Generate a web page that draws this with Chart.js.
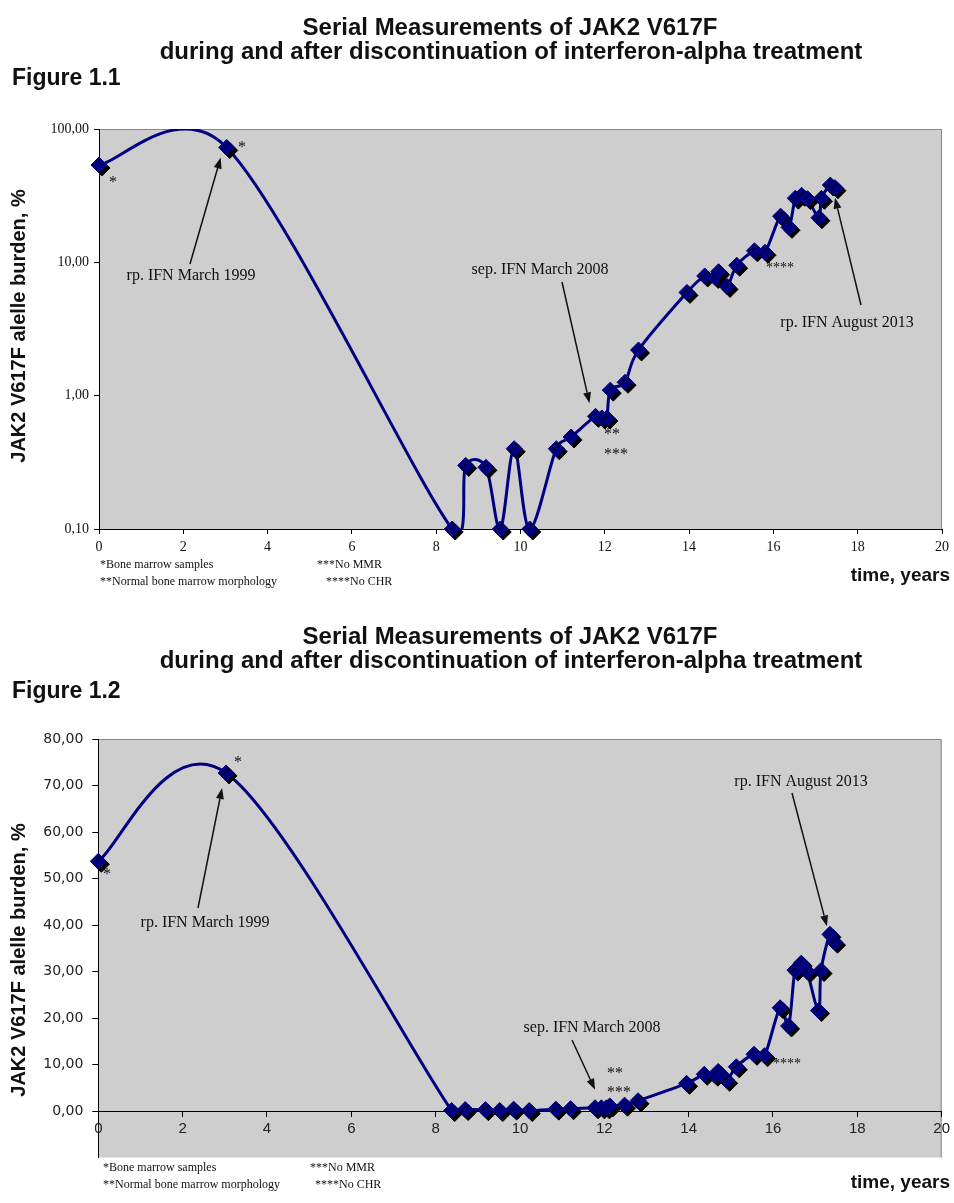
<!DOCTYPE html>
<html>
<head>
<meta charset="utf-8">
<script src="https://cdn.jsdelivr.net/npm/chart.js@4/dist/chart.umd.min.js"></script>
<style>
html, body { margin: 0; padding: 0; background: #fff; }
#wrap { position: relative; width: 954px; height: 1203px; }
canvas { position: absolute; left: 0; }
#c1 { top: 0; }
#c2 { top: 600px; }
</style>
</head>
<body>
<div id="wrap">
  <canvas id="c1" width="954" height="600"></canvas>
  <canvas id="c2" width="954" height="603"></canvas>
</div>
<script>
// time since start, years
const years  = [0.00, 3.03, 8.38, 8.70, 9.18, 9.52, 9.85, 10.22, 10.85, 11.20,
                11.78, 11.93, 12.05, 12.13, 12.48, 12.80, 13.95,
                14.37, 14.62, 14.70, 14.90, 15.13, 15.55, 15.80,
                16.17, 16.37, 16.52, 16.67, 16.81, 17.08, 17.14, 17.35, 17.46];
// JAK2 V617F allele burden, %
const burden = [53.7, 72.7, 0.10, 0.30, 0.29, 0.10, 0.40, 0.10, 0.40, 0.49,
                0.70, 0.68, 0.68, 1.10, 1.26, 2.20, 5.95,
                7.9, 7.7, 8.5, 6.6, 9.5, 12.2, 11.9,
                22.2, 18.3, 30.3, 31.8, 30.0, 21.6, 30.2, 38.0, 36.3];
const xTicks   = [0, 2, 4, 6, 8, 10, 12, 14, 16, 18, 20];
const logTicks = [0.1, 1, 10, 100];
const linTicks = [0, 10, 20, 30, 40, 50, 60, 70, 80];

const titleLines = ['Serial Measurements of JAK2 V617F',
                    'during and after discontinuation of interferon-alpha treatment'];
const yTitle = 'JAK2 V617F alelle burden, %';
const xTitle = 'time, years';
const notes  = [['*Bone marrow samples', '***No MMR'],
                ['**Normal bone marrow morphology', '****No CHR']];

const NAVY = '#000080';
const SERIF = '"Liberation Serif", "DejaVu Serif", serif';
const SANS = '"Liberation Sans", Arial, sans-serif';
const pts = years.map((x, i) => ({ x: x, y: burden[i] }));
const fmt = v => Number(v).toFixed(2).replace('.', ',');

function arrow(c, x1, y1, x2, y2) {
  const a = Math.atan2(y2 - y1, x2 - x1), L = 11, W = 4;
  c.save();
  c.strokeStyle = '#111'; c.fillStyle = '#111'; c.lineWidth = 1.5;
  c.beginPath(); c.moveTo(x1, y1);
  c.lineTo(x2 - L * Math.cos(a), y2 - L * Math.sin(a)); c.stroke();
  c.beginPath(); c.moveTo(x2, y2);
  c.lineTo(x2 - L * Math.cos(a) + W * Math.sin(a), y2 - L * Math.sin(a) - W * Math.cos(a));
  c.lineTo(x2 - L * Math.cos(a) - W * Math.sin(a), y2 - L * Math.sin(a) + W * Math.cos(a));
  c.closePath(); c.fill();
  c.restore();
}

function text(c, s, x, y, font, align) {
  c.font = font; c.textAlign = align || 'left'; c.textBaseline = 'middle';
  c.fillStyle = '#111'; c.fillText(s, x, y);
}

// diamonds get a hard black drop shadow, like the spreadsheet markers
const shadow = {
  id: 'shadow',
  beforeDatasetDraw(chart, args) {
    if (args.index !== 0) return;
    const c = chart.ctx; c.save();
    c.shadowColor = '#000'; c.shadowOffsetX = 3; c.shadowOffsetY = 3; c.shadowBlur = 0;
  },
  afterDatasetDraw(chart, args) { if (args.index === 0) chart.ctx.restore(); }
};

// spreadsheet-like smoothing: tangent (next - prev), handle at most 1/6 of it,
// shortened on the side of a short neighbour segment so nothing loops
const smooth = {
  id: 'smooth',
  beforeDatasetDraw(chart, args) {
    if (args.index !== 1) return;
    const line = args.meta.dataset, el = args.meta.data, n = el.length, T = 0.6;
    for (let i = 0; i < n; i++) {
      const a = el[Math.max(i - 1, 0)], b = el[Math.min(i + 1, n - 1)], p = el[i];
      const d01 = Math.hypot(p.x - a.x, p.y - a.y), d12 = Math.hypot(b.x - p.x, b.y - p.y);
      const s = (d01 + d12) || 1;
      const fa = Math.min(1 / 6, T * d01 / s), fb = Math.min(1 / 6, T * d12 / s);
      const dx = b.x - a.x, dy = b.y - a.y;
      p.cp1x = p.x - fa * dx; p.cp1y = p.y - fa * dy;
      p.cp2x = p.x + fb * dx; p.cp2y = p.y + fb * dy;
    }
    line._pointsUpdated = true;
    delete line._path;
  }
};

const plotBg = {
  id: 'plotBg',
  beforeDraw(chart) {
    const { ctx, chartArea: a } = chart;
    ctx.save(); ctx.fillStyle = '#cecece';
    ctx.fillRect(a.left, a.top, a.right - a.left, a.bottom - a.top);
    ctx.strokeStyle = '#888'; ctx.lineWidth = 1;
    ctx.beginPath(); ctx.moveTo(a.left, a.top + 0.5); ctx.lineTo(a.right - 0.5, a.top + 0.5);
    ctx.lineTo(a.right - 0.5, a.bottom); ctx.stroke();
    ctx.restore();
  }
};

function datasets() {
  return [{
    data: pts, showLine: false, pointStyle: 'rectRot', pointRadius: 8, pointHoverRadius: 8,
    backgroundColor: NAVY, borderColor: NAVY, borderWidth: 1, clip: false
  }, {
    data: pts, borderColor: NAVY, borderWidth: 3, pointRadius: 0, tension: 0.4,
    capBezierPoints: false, fill: false
  }];
}

function titles(c, y0, fig, figY) {
  text(c, titleLines[0], 510, y0, 'bold 24px ' + SANS, 'center');
  text(c, titleLines[1], 511, y0 + 24, 'bold 24px ' + SANS, 'center');
  text(c, fig, 12, figY, 'bold 23px ' + SANS);
}

// Figure 1.1, logarithmic
new Chart(document.getElementById('c1'), {
  type: 'line',
  data: { datasets: datasets() },
  options: {
    responsive: false, animation: false, devicePixelRatio: 1,
    layout: { padding: { top: 129, right: 11, left: 0, bottom: 0 } },
    plugins: { legend: { display: false }, tooltip: { enabled: false } },
    scales: {
      x: {
        type: 'linear', min: 0, max: 20,
        afterBuildTicks: s => { s.ticks = xTicks.map(v => ({ value: v })); },
        afterFit: s => { s.height = 71; },
        ticks: { font: { family: SERIF, size: 14 }, color: '#111', padding: 5, maxRotation: 0 },
        grid: { drawOnChartArea: false, tickLength: 5, color: '#000' },
        border: { color: '#000' }
      },
      y: {
        type: 'logarithmic', min: 0.1, max: 100,
        afterBuildTicks: s => { s.ticks = logTicks.map(v => ({ value: v })); },
        afterFit: s => { s.width = 99; },
        ticks: { callback: fmt, font: { family: SERIF, size: 14 }, color: '#111', padding: 5 },
        grid: { drawOnChartArea: false, tickLength: 5, color: '#000' },
        border: { color: '#000' }
      }
    }
  },
  plugins: [plotBg, shadow, smooth, {
    id: 'notes1',
    afterDraw(chart) {
      const c = chart.ctx, xs = chart.scales.x, ys = chart.scales.y;
      const p = i => ({ x: xs.getPixelForValue(years[i]), y: ys.getPixelForValue(burden[i]) });
      titles(c, 28, 'Figure 1.1', 79);
      c.save(); c.translate(19, 326); c.rotate(-Math.PI / 2);
      text(c, yTitle, 0, 0, 'bold 20px ' + SANS, 'center'); c.restore();
      text(c, xTitle, 950, 576, 'bold 19px ' + SANS, 'right');
      const nf = '12px ' + SERIF;
      text(c, notes[0][0], 100, 565, nf); text(c, notes[0][1], 317, 565, nf);
      text(c, notes[1][0], 100, 582, nf); text(c, notes[1][1], 326, 582, nf);
      const af = '16px ' + SERIF;
      text(c, '*', 113, 183, af, 'center');
      text(c, '*', 242, 148, af, 'center');
      text(c, 'rp. IFN March 1999', 191, 276, af, 'center');
      let q = p(1); arrow(c, 190, 264, q.x - 6, q.y + 10);
      text(c, 'sep. IFN March 2008', 540, 270, af, 'center');
      q = p(10); arrow(c, 562, 282, q.x - 6, q.y - 13);
      text(c, '**', 604, 435, af); text(c, '***', 604, 455, af);
      text(c, '****', 766, 268, '14px ' + SERIF);
      text(c, 'rp. IFN August 2013', 847, 323, af, 'center');
      q = p(32); arrow(c, 861, 305, q.x, q.y + 10);
    }
  }]
});

// Figure 1.2, linear
new Chart(document.getElementById('c2'), {
  type: 'line',
  data: { datasets: datasets() },
  options: {
    responsive: false, animation: false, devicePixelRatio: 1,
    layout: { padding: { top: 139, right: 11, left: 0, bottom: 45.5 } },
    plugins: { legend: { display: false }, tooltip: { enabled: false } },
    scales: {
      x: {
        type: 'linear', min: 0, max: 20, position: { y: 0 },
        afterBuildTicks: s => { s.ticks = xTicks.map(v => ({ value: v })); },
        ticks: { font: { family: '"Liberation Sans Narrow", ' + SANS, size: 15 }, color: '#222', padding: 4, maxRotation: 0 },
        grid: { drawOnChartArea: false, tickLength: 5, color: '#000' },
        border: { color: '#000' }
      },
      y: {
        type: 'linear', min: -10, max: 80,
        afterBuildTicks: s => { s.ticks = linTicks.map(v => ({ value: v })); },
        afterFit: s => { s.width = 98.3; },
        ticks: { callback: fmt, font: { family: '"DejaVu Sans", Verdana, sans-serif', size: 14 }, color: '#222', padding: 9 },
        grid: { drawOnChartArea: false, tickLength: 6, color: '#000' },
        border: { color: '#000' }
      }
    }
  },
  plugins: [plotBg, shadow, smooth, {
    id: 'notes2',
    afterDraw(chart) {
      const c = chart.ctx, xs = chart.scales.x, ys = chart.scales.y;
      const p = i => ({ x: xs.getPixelForValue(years[i]), y: ys.getPixelForValue(burden[i]) });
      titles(c, 37, 'Figure 1.2', 92);
      c.save(); c.translate(19, 360); c.rotate(-Math.PI / 2);
      text(c, yTitle, 0, 0, 'bold 20px ' + SANS, 'center'); c.restore();
      text(c, xTitle, 950, 583, 'bold 19px ' + SANS, 'right');
      const nf = '12px ' + SERIF;
      text(c, notes[0][0], 103, 568, nf); text(c, notes[0][1], 310, 568, nf);
      text(c, notes[1][0], 103, 585, nf); text(c, notes[1][1], 315, 585, nf);
      const af = '16px ' + SERIF;
      text(c, '*', 107, 275, af, 'center');
      text(c, '*', 238, 163, af, 'center');
      text(c, 'rp. IFN March 1999', 205, 323, af, 'center');
      let q = p(1); arrow(c, 198, 308, q.x - 4, q.y + 15);
      text(c, 'sep. IFN March 2008', 592, 428, af, 'center');
      q = p(10); arrow(c, 572, 440, q.x, q.y - 18);
      text(c, '**', 607, 474, af); text(c, '***', 607, 493, af);
      text(c, '****', 773, 464, '14px ' + SERIF);
      text(c, 'rp. IFN August 2013', 801, 182, af, 'center');
      q = p(31); arrow(c, 792, 193, q.x - 3, q.y - 8);
    }
  }]
});
</script>
</body>
</html>
